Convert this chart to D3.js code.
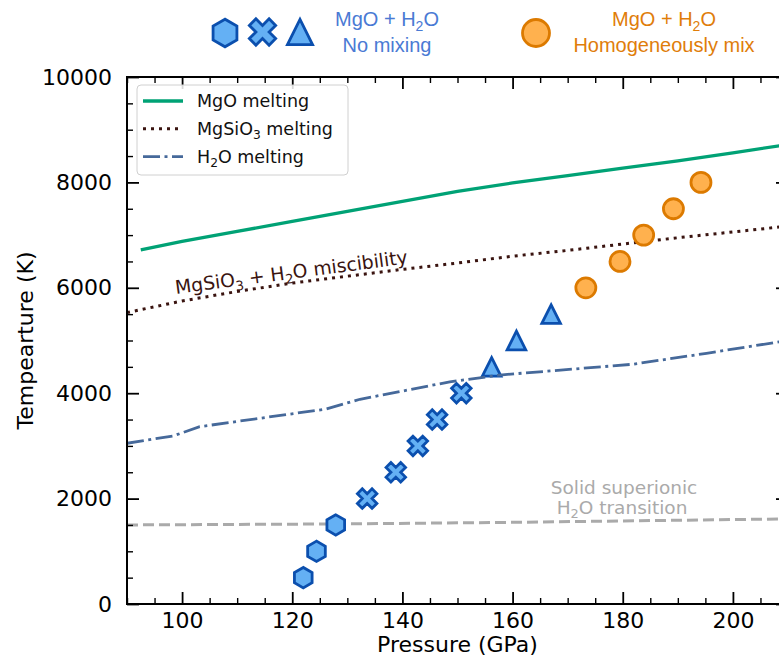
<!DOCTYPE html>
<html><head><meta charset="utf-8">
<script src="https://cdn.jsdelivr.net/npm/d3@7"></script>
<style>body{margin:0;background:#fff}svg{display:block}</style>
</head><body>
<svg id="c" width="779" height="660"></svg>
<script>
// ---------------- DATA ----------------
const pressureTicks = [100, 120, 140, 160, 180, 200];
const tempTicks = [0, 2000, 4000, 6000, 8000, 10000];

// MgO melting curve (solid green)
const mgoP = [92.5, 100, 110, 120, 130, 140, 150, 160, 170, 180, 190, 200, 210];
const mgoT = [6720, 6880, 7070, 7260, 7450, 7640, 7830, 7990, 8130, 8270, 8410, 8560, 8720];

// MgSiO3 melting curve (dotted)
const mgsio3P = [90, 100, 110, 120, 130, 140, 150, 160, 170, 180, 190, 200, 210];
const mgsio3T = [5530, 5750, 5930, 6090, 6220, 6350, 6470, 6600, 6710, 6830, 6950, 7060, 7170];

// H2O melting curve (dash-dot)
const h2oP = [90, 98.4, 103.2, 126.2, 132.3, 148.6, 157.7, 181.9, 195.2, 210];
const h2oT = [3050, 3190, 3365, 3700, 3885, 4215, 4345, 4550, 4757, 5000];

// Solid superionic H2O transition (grey dashed)
const supP = [90, 130, 160, 210];
const supT = [1500, 1520, 1550, 1615];

// Simulation points
const hexP = [122.0, 124.4, 127.9];
const hexT = [500, 1000, 1500];
const crossP = [133.6, 138.8, 142.8, 146.3, 150.7];
const crossT = [2000, 2500, 3000, 3500, 4000];
const triP = [156.2, 160.7, 167.0];
const triT = [4500, 5000, 5500];
const circP = [173.3, 179.5, 183.8, 189.2, 194.2];
const circT = [6000, 6500, 7000, 7500, 8000];

// ---------------- STYLE ----------------
const C = {
  green: "#00a275", dotted: "#3a1410", h2o: "#46699a", grey: "#aaaaaa",
  blueFill: "#64b0f4", blueEdge: "#0b4fae", orFill: "#ffb14e", orEdge: "#dc7a00",
  blueText: "#4a7ad4", orText: "#e07d0a"
};
const FONT = "'DejaVu Sans', sans-serif";
const svg = d3.select("#c");
const L = 127, R = 788, T = 77, B = 604;
const x = d3.scaleLinear().domain([90, 210]).range([L, R]);
const y = d3.scaleLinear().domain([0, 10000]).range([B, T]);

function rich(sel, parts, fs) {
  const sh = fs * 0.24;
  let pending = 0;
  parts.forEach(p => {
    const t = sel.append("tspan").text(p[0]);
    if (p[1] === "sub") {
      t.attr("dy", sh + pending).attr("font-size", fs * 0.7);
      pending = -sh;
    } else {
      if (pending) t.attr("dy", pending);
      pending = 0;
    }
  });
  return sel;
}

// ---------------- LINES ----------------
svg.append("clipPath").attr("id", "pc").append("rect")
  .attr("x", L).attr("y", T).attr("width", R - L).attr("height", B - T);
const plot = svg.append("g").attr("clip-path", "url(#pc)");
const line = d3.line().x(d => x(d[0])).y(d => y(d[1]));
const zip = (a, b) => a.map((v, i) => [v, b[i]]);

plot.append("path").datum(zip(supP, supT)).attr("d", line).attr("fill", "none")
  .attr("stroke", C.grey).attr("stroke-width", 3).attr("stroke-dasharray", "11,5");
plot.append("path").datum(zip(mgsio3P, mgsio3T)).attr("d", line).attr("fill", "none")
  .attr("stroke", C.dotted).attr("stroke-width", 3).attr("stroke-dasharray", "3,5");
plot.append("path").datum(zip(mgoP, mgoT)).attr("d", line).attr("fill", "none")
  .attr("stroke", C.green).attr("stroke-width", 3.3);

// ---------------- MARKERS ----------------
function hexPath(s) { // pointy-top hexagon, circumradius s
  const pts = d3.range(6).map(i => { const a = Math.PI / 2 + i * Math.PI / 3; return [s * Math.cos(a), -s * Math.sin(a)]; });
  return "M" + pts.map(p => p.join(",")).join("L") + "Z";
}
function xPath(s) { // matplotlib filled X, extent s
  const v = [[0.25,0],[0.5,0.25],[0.75,0],[1,0.25],[0.75,0.5],[1,0.75],[0.75,1],[0.5,0.75],[0.25,1],[0,0.75],[0.25,0.5],[0,0.25]];
  return "M" + v.map(p => [(p[0]-0.5)*s, (p[1]-0.5)*s].join(",")).join("L") + "Z";
}
function triPath(s) { // bbox-centred triangle, half size s
  return `M0,${-s}L${s},${s}L${-s},${s}Z`;
}
function circPath(r) { return d3.arc()({innerRadius: 0, outerRadius: r, startAngle: 0, endAngle: 2 * Math.PI}); }

const mk = svg.append("g");
function drawMarkers(P, Tv, path, fill, edge) {
  mk.selectAll(null).data(zip(P, Tv)).enter().append("path")
    .attr("transform", d => `translate(${x(d[0])},${y(d[1])})`)
    .attr("d", path).attr("fill", fill).attr("stroke", edge)
    .attr("stroke-width", 2.8).attr("stroke-linejoin", "miter");
}
drawMarkers(hexP, hexT, hexPath(10.2), C.blueFill, C.blueEdge);
drawMarkers(crossP, crossT, xPath(19.5), C.blueFill, C.blueEdge);
drawMarkers(triP, triT, triPath(9.3), C.blueFill, C.blueEdge);
drawMarkers(circP, circT, circPath(10), C.orFill, C.orEdge);

const plot2 = svg.append("g").attr("clip-path", "url(#pc)");
plot2.append("path").datum(zip(h2oP, h2oT)).attr("d", line).attr("fill", "none")
  .attr("stroke", C.h2o).attr("stroke-width", 2.8).attr("stroke-dasharray", "17,4.5,3,4.5");

// ---------------- ANNOTATIONS ----------------
rich(svg.append("text").attr("transform", "translate(176,294) rotate(-7.5)")
  .attr("font-family", FONT).attr("font-size", 18.8).attr("fill", C.dotted),
  [["MgSiO"], ["3", "sub"], [" + H"], ["2", "sub"], ["O miscibility"]], 18.8);

svg.append("text").attr("x", 624).attr("y", 494).attr("text-anchor", "middle")
  .attr("font-family", FONT).attr("font-size", 18.5).attr("fill", C.grey).text("Solid superionic");
rich(svg.append("text").attr("x", 622).attr("y", 514).attr("text-anchor", "middle")
  .attr("font-family", FONT).attr("font-size", 18.5).attr("fill", C.grey),
  [["H"], ["2", "sub"], ["O transition"]], 18.5);

// ---------------- AXES ----------------
const ax = svg.append("g").attr("font-family", FONT);
const minorX = d3.range(90, 211, 5).filter(v => !pressureTicks.includes(v));
const minorY = d3.range(0, 10001, 500).filter(v => !tempTicks.includes(v));
function styleAxis(g, fs) {
  g.select(".domain").remove();
  g.selectAll(".tick line").attr("stroke", "#000");
  g.selectAll(".tick text").attr("font-family", FONT).attr("font-size", fs).attr("fill", "#000");
}
// bottom
ax.append("g").attr("transform", `translate(0,${B})`)
  .call(d3.axisBottom(x).tickValues(pressureTicks).tickSize(-12).tickPadding(8))
  .call(g => styleAxis(g, 22)).selectAll(".tick line").attr("stroke-width", 1.8);
ax.append("g").attr("transform", `translate(0,${B})`)
  .call(d3.axisBottom(x).tickValues(minorX).tickSize(-6).tickFormat(""))
  .call(g => styleAxis(g, 22)).selectAll(".tick line").attr("stroke-width", 1.4);
// top
ax.append("g").attr("transform", `translate(0,${T})`)
  .call(d3.axisTop(x).tickValues(pressureTicks).tickSize(-12).tickFormat(""))
  .call(g => styleAxis(g, 22)).selectAll(".tick line").attr("stroke-width", 1.8);
ax.append("g").attr("transform", `translate(0,${T})`)
  .call(d3.axisTop(x).tickValues(minorX).tickSize(-6).tickFormat(""))
  .call(g => styleAxis(g, 22)).selectAll(".tick line").attr("stroke-width", 1.4);
// left
ax.append("g").attr("transform", `translate(${L},0)`)
  .call(d3.axisLeft(y).tickValues(tempTicks).tickSize(-12).tickPadding(15).tickFormat(d3.format("d")))
  .call(g => styleAxis(g, 22)).selectAll(".tick line").attr("stroke-width", 1.8);
ax.append("g").attr("transform", `translate(${L},0)`)
  .call(d3.axisLeft(y).tickValues(minorY).tickSize(-6).tickFormat(""))
  .call(g => styleAxis(g, 22)).selectAll(".tick line").attr("stroke-width", 1.4);
// right
ax.append("g").attr("transform", `translate(${R},0)`)
  .call(d3.axisRight(y).tickValues(tempTicks).tickSize(-12).tickFormat(""))
  .call(g => styleAxis(g, 22)).selectAll(".tick line").attr("stroke-width", 1.8);
ax.append("g").attr("transform", `translate(${R},0)`)
  .call(d3.axisRight(y).tickValues(minorY).tickSize(-6).tickFormat(""))
  .call(g => styleAxis(g, 22)).selectAll(".tick line").attr("stroke-width", 1.4);
// frame
ax.append("rect").attr("x", L).attr("y", T).attr("width", R - L).attr("height", B - T)
  .attr("fill", "none").attr("stroke", "#000").attr("stroke-width", 2);

svg.append("text").attr("x", (L + R) / 2).attr("y", 652).attr("text-anchor", "middle")
  .attr("font-family", FONT).attr("font-size", 22).text("Pressure (GPa)");
svg.append("text").attr("transform", `translate(33,${(T + B) / 2}) rotate(-90)`).attr("text-anchor", "middle")
  .attr("font-family", FONT).attr("font-size", 22).text("Tempearture (K)");

// ---------------- LEGEND (inside) ----------------
const lg = svg.append("g");
lg.append("rect").attr("x", 137).attr("y", 85).attr("width", 211).attr("height", 90).attr("rx", 4)
  .attr("fill", "#fff").attr("fill-opacity", 0.85).attr("stroke", "#d0d0d0").attr("stroke-width", 1);
const legItems = [
  {parts: [["MgO melting"]], color: C.green, dash: null, w: 3.3},
  {parts: [["MgSiO"], ["3", "sub"], [" melting"]], color: C.dotted, dash: "3,5", w: 3},
  {parts: [["H"], ["2", "sub"], ["O melting"]], color: C.h2o, dash: "17,4.5,3,4.5", w: 2.8}
];
legItems.forEach((it, i) => {
  const yy = 101 + i * 27.8;
  const ln = lg.append("line").attr("x1", 143).attr("x2", 183).attr("y1", yy).attr("y2", yy)
    .attr("stroke", it.color).attr("stroke-width", it.w);
  if (it.dash) ln.attr("stroke-dasharray", it.dash);
  rich(lg.append("text").attr("x", 197).attr("y", yy + 6).attr("font-family", FONT)
    .attr("font-size", 17.5).attr("fill", "#111"), it.parts, 17.5);
});

// ---------------- LEGEND (top) ----------------
const tl = svg.append("g");
const LS = 1.35;
const TF = "'Liberation Sans', Arial, sans-serif";
function legMarker(cx, cy, path, fill, edge) {
  tl.append("path").attr("transform", `translate(${cx},${cy}) scale(${LS})`).attr("d", path)
    .attr("fill", fill).attr("stroke", edge).attr("stroke-width", 2.8 / LS);
}
legMarker(225, 33, hexPath(10.2), C.blueFill, C.blueEdge);
legMarker(262.5, 32, xPath(19.5), C.blueFill, C.blueEdge);
legMarker(300, 32, triPath(9.3), C.blueFill, C.blueEdge);
legMarker(536, 33, circPath(10), C.orFill, C.orEdge);
rich(tl.append("text").attr("x", 387).attr("y", 26).attr("text-anchor", "middle")
  .attr("font-family", TF).attr("font-size", 20).attr("fill", C.blueText),
  [["MgO + H"], ["2", "sub"], ["O"]], 20);
tl.append("text").attr("x", 387).attr("y", 52).attr("text-anchor", "middle")
  .attr("font-family", TF).attr("font-size", 20).attr("fill", C.blueText).text("No mixing");
rich(tl.append("text").attr("x", 664).attr("y", 26).attr("text-anchor", "middle")
  .attr("font-family", TF).attr("font-size", 20).attr("fill", C.orText),
  [["MgO + H"], ["2", "sub"], ["O"]], 20);
tl.append("text").attr("x", 664).attr("y", 52).attr("text-anchor", "middle")
  .attr("font-family", TF).attr("font-size", 20).attr("fill", C.orText).text("Homogeneously mix");
</script>
</body></html>
